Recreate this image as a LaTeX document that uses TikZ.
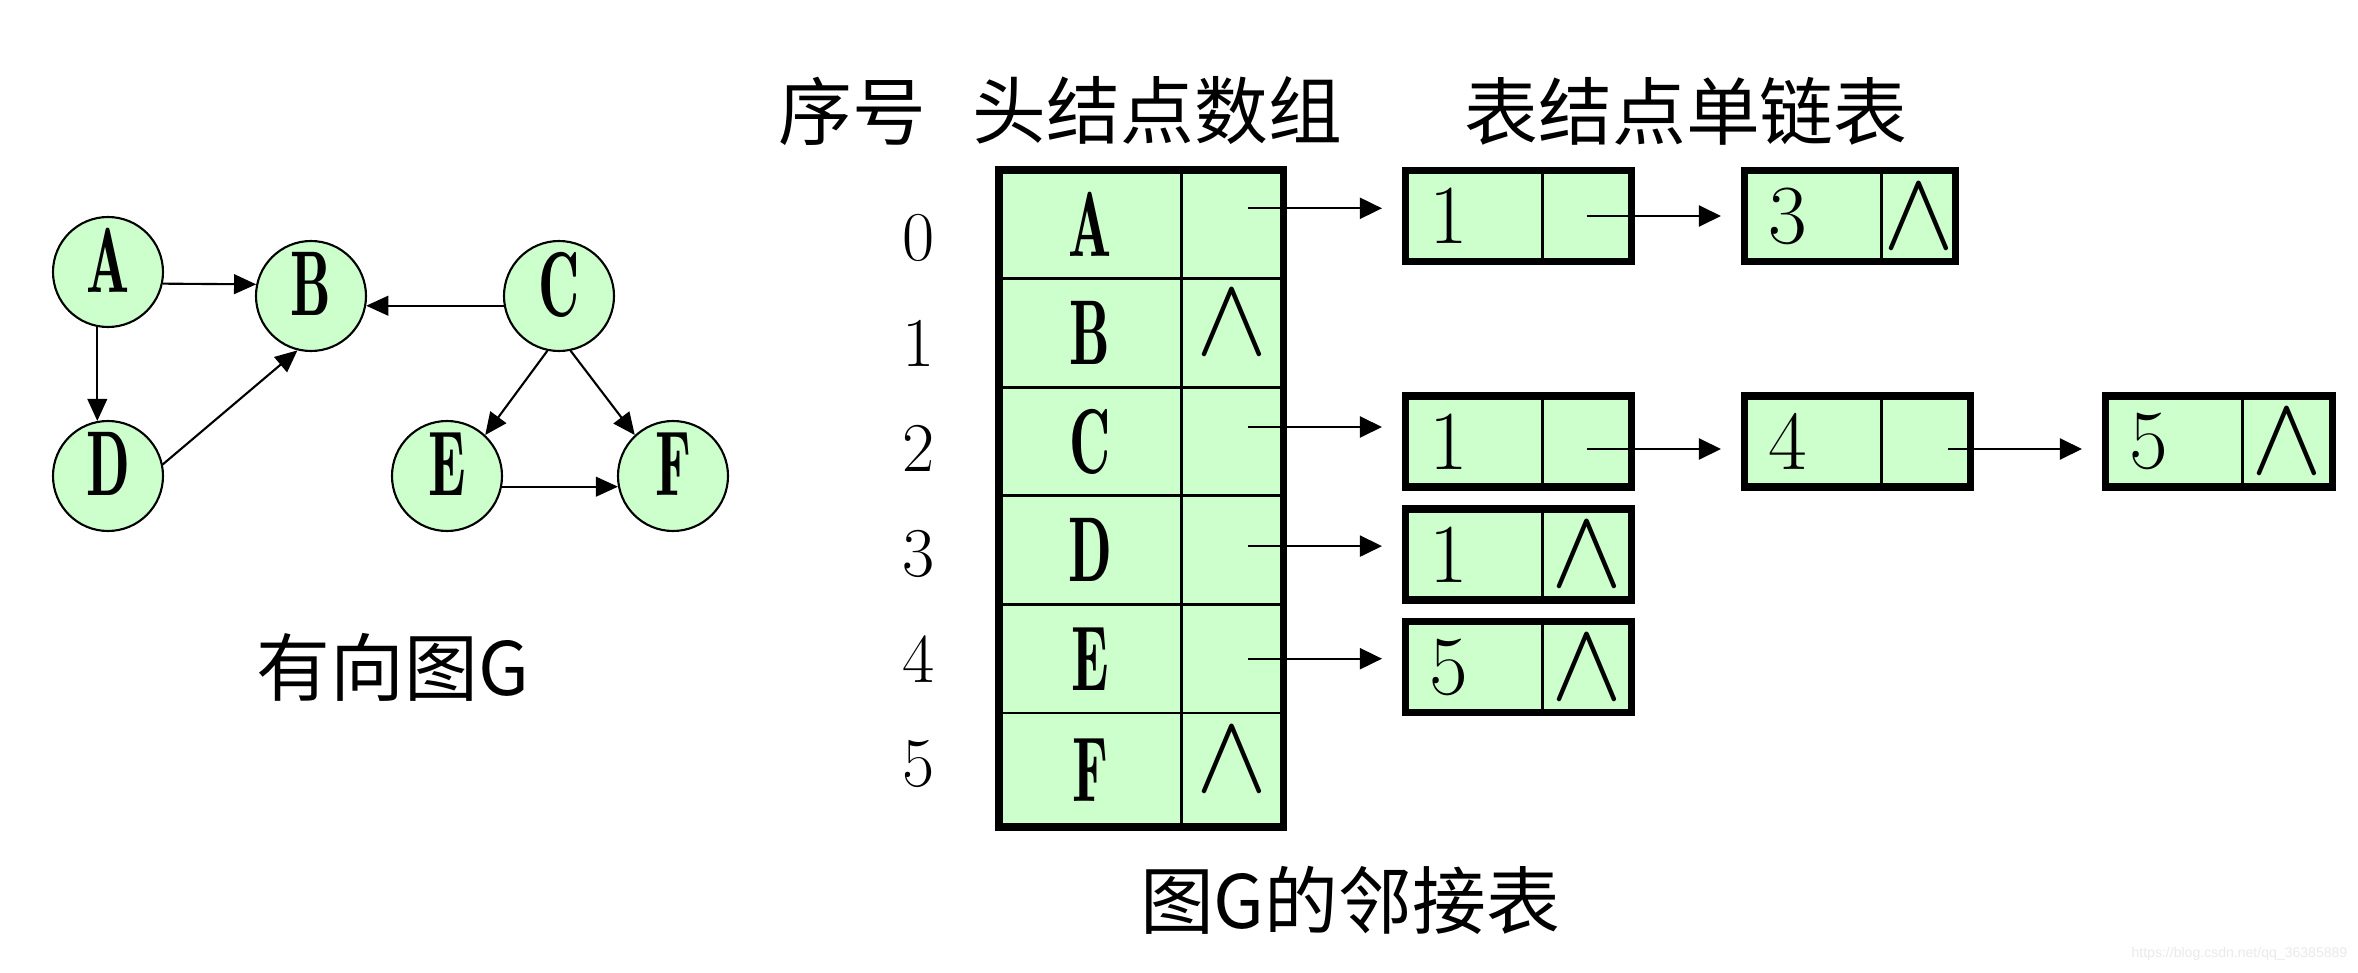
\documentclass[tikz,border=0pt]{standalone}
\usepackage{fontspec}
\newfontfamily\cjk{Noto Sans CJK SC}
\newfontfamily\narrowrm{lmromandemi10-regular.otf}[FakeStretch=0.62]
\newfontfamily\lmmath{latinmodern-math.otf}
\newfontfamily\wmfont{Liberation Sans}
\usetikzlibrary{arrows.meta,positioning,calc,fit}
\definecolor{cCell}{HTML}{CCFFCC}
\definecolor{cMark}{HTML}{EAEAEA}

\begin{document}
\begin{tikzpicture}[
  vert/.style={circle, draw, fill=cCell, line width=.6pt, minimum size=1.10cm,
               inner sep=0pt, text depth=.24cm, font=\fontsize{26.2}{28}\narrowrm},
  adj/.style={-{Triangle[length=6.3pt,width=5.6pt]}, line width=.6pt},
  link/.style={-{Triangle[length=6.3pt,width=6pt]}, line width=.6pt, shorten >=.2cm},
  vcell/.style={draw, fill=cCell, line width=.85pt, minimum width=1.82cm,
                minimum height=1.086cm, inner sep=0pt, outer sep=0pt,
                font=\fontsize{26.2}{28}\narrowrm},
  pcell/.style={vcell, minimum width=1.025cm},
  nilt/.style={font=\fontsize{31.9}{32}\lmmath, text depth=.24cm},
  dat/.style={draw, fill=cCell, line width=.85pt, minimum height=.91cm,
              text width=.885cm, align=left, inner xsep=.24cm, inner ysep=0pt,
              outer sep=0pt, font=\fontsize{23.9}{25}\selectfont},
  lnk/.style={draw, fill=cCell, line width=.85pt, minimum height=.91cm,
              minimum width=#1, inner sep=0pt, outer sep=0pt,
              font=\fontsize{31.9}{32}\lmmath},
  lnk/.default=.895cm,
  lframe/.style={draw, line width=#1, inner sep=0pt},
  lframe/.default=2pt,
  idx/.style={font=\fontsize{19.9}{22}\selectfont, inner sep=0pt},
  ttl/.style={font=\fontsize{21}{24}\cjk, inner sep=0pt},
]
\fill[white] (0,0) rectangle (23.58,9.72);
\useasboundingbox (0,0) rectangle (23.58,9.72);

% ---------------- directed graph G ----------------
\node[vert] (A) at (1.08,7.00) {A};
\node[vert] (B) at (3.11,6.76) {B};
\node[vert] (C) at (5.59,6.76) {C};
\node[vert] (D) at (1.08,4.96) {D};
\node[vert] (E) at (4.47,4.96) {E};
\node[vert] (F) at (6.73,4.96) {F};

\draw[adj] (A.-12) -- (B.168);
\draw[adj] (C.190) -- (B.-10);
\draw[adj] (A.259) -- (D.101);
\draw[adj] (D.12) -- (B.256);
\draw[adj] (C.258) -- (E.47);
\draw[adj] (C.282) -- (F.133);
\draw[adj] (E.-11) -- (F.191);

\node[ttl] (capG) at (3.93,3.05) {有向图G};

% ---------------- head node array ----------------
\node[ttl] (hNo) at (8.52,8.61) {序号};
\node[ttl] (hHead) at (11.575,8.61) {头结点数组};
\node[ttl] (hList) at (16.86,8.61) {表结点单链表};

\node[vcell, anchor=north west] (v0) at (9.99,8.02) {A};
\node[pcell, right=0pt of v0] (p0) {};
\node[vcell, below=0pt of v0] (v1) {B};
\node[pcell, nilt, right=0pt of v1] (p1) {∧};
\node[vcell, below=0pt of v1] (v2) {C};
\node[pcell, right=0pt of v2] (p2) {};
\node[vcell, below=0pt of v2] (v3) {D};
\node[pcell, right=0pt of v3] (p3) {};
\node[vcell, below=0pt of v3] (v4) {E};
\node[pcell, right=0pt of v4] (p4) {};
\node[vcell, below=0pt of v4, minimum height=1.14cm] (v5) {F};
\node[pcell, nilt, right=0pt of v5, minimum height=1.14cm] (p5) {∧};
\node[lframe=2.2pt, fit=(v0)(p5)] (tbl) {};

\foreach \i in {0,...,5}
  \node[idx] (i\i) at (9.19,7.34-1.052*\i) {\i};

% ---------------- adjacency lists ----------------
\node[dat, anchor=west] (e01) at (14.055,7.56) {1};
\node[lnk, right=0pt of e01] (e01p) {};
\node[lframe, fit=(e01)(e01p)] (f01) {};
\node[dat, right=1.13cm of e01p] (e03) {3};
\node[lnk=.745cm, right=0pt of e03] (e03p) {∧};
\node[lframe, fit=(e03)(e03p)] (f03) {};

\node[dat, anchor=west] (e21) at (14.055,5.305) {1};
\node[lnk, right=0pt of e21] (e21p) {};
\node[lframe, fit=(e21)(e21p)] (f21) {};
\node[dat, right=1.13cm of e21p] (e24) {4};
\node[lnk, right=0pt of e24] (e24p) {};
\node[lframe, fit=(e24)(e24p)] (f24) {};
\node[dat, right=1.35cm of e24p] (e25) {5};
\node[lnk=.905cm, right=0pt of e25] (e25p) {∧};
\node[lframe, fit=(e25)(e25p)] (f25) {};

\node[dat, anchor=west] (e31) at (14.055,4.175) {1};
\node[lnk, right=0pt of e31] (e31p) {∧};
\node[lframe, fit=(e31)(e31p)] (f31) {};

\node[dat, anchor=west] (e45) at (14.055,3.05) {5};
\node[lnk, right=0pt of e45] (e45p) {∧};
\node[lframe, fit=(e45)(e45p)] (f45) {};

% pointers
\coordinate (s0) at ($(p0.center)+(.16,.16)$);
\coordinate (s2) at ($(p2.center)+(.16,.145)$);
\coordinate (s3) at ($(p3.center)+(.16,.04)$);
\coordinate (s4) at ($(p4.center)+(.16,0)$);
\coordinate (s21) at ($(e21p.center)+(0,-.075)$);
\coordinate (s24) at ($(e24p.center)+(.22,-.075)$);

\draw[link] (s0) -- (s0 -| f01.west);
\draw[link] (s2) -- (s2 -| f21.west);
\draw[link] (s3) -- (s3 -| f31.west);
\draw[link] (s4) -- (s4 -| f45.west);
\draw[link] (e01p.center) -- (f03.west);
\draw[link] (s21) -- (s21 -| f24.west);
\draw[link] (s24) -- (s24 -| f25.west);

\node[ttl] (capT) at (13.50,0.72) {图G的邻接表};

\node[font=\fontsize{4}{5}\wmfont, text=cMark, anchor=east, inner sep=0pt] (wm)
  at (23.48,0.18) {https://blog.csdn.net/qq\_36385889};
\end{tikzpicture}
\end{document}
